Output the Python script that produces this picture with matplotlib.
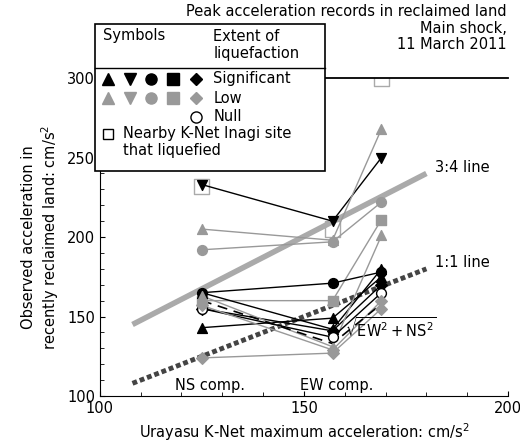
import matplotlib
matplotlib.use("Agg")
import matplotlib.pyplot as plt
from matplotlib.patches import Rectangle

xpos = [125, 157, 169]
# site series: (NS, EW, combined), marker, color, fill
sites = [
    ([233, 210, 250], 'v', 'k', True),
    ([205, 198, 268], '^', '#999999', True),
    ([192, 197, 222], 'o', '#999999', True),
    ([160, 160, 211], 's', '#999999', True),
    ([165, 171, 178], 'o', 'k', True),
    ([143, 149, 175], '^', 'k', True),
    ([165, 142, 180], '^', 'k', True),
    ([155, 141, 170], 'D', 'k', True),
    ([124, 127, 155], 'D', '#999999', True),
    ([163, 131, 201], '^', '#999999', True),
    ([155, 137, 165], 'o', 'k', False),
    ([157, 129, 160], 'D', '#999999', True),
]
dashed_vals = [160, 133, 158]
inagi = [232, 205, 300]
line34_x = [108, 180]
line34_y = [145, 240]
line11_x = [108, 180]
line11_y = [108, 180]

FS = 10.5
fig = plt.figure(figsize=(5.2, 4.46), dpi=100)
ax = fig.add_axes([0.192, 0.112, 0.785, 0.713])
ax.set_xlim(100, 200)
ax.set_ylim(100, 300)
ax.spines['right'].set_visible(False)
ax.spines['top'].set_linewidth(1.3)
ax.set_xticks([100, 150, 200])
ax.set_xticks(range(100, 201, 10), minor=True)
ax.set_yticks([100, 150, 200, 250, 300])
ax.set_yticks(range(100, 301, 10), minor=True)
ax.tick_params(direction='in', labelsize=FS)
ax.tick_params(which='minor', direction='in', length=3)

ax.plot(line34_x, line34_y, color='#aaaaaa', lw=4, solid_capstyle='butt')
ax.plot(line11_x, line11_y, color='#444444', lw=3.5, ls=(0, (1, 0.6)))

for vals, m, c, f in sites:
    ax.plot(xpos, vals, color=c, lw=1, zorder=3)
    ax.scatter(xpos, vals, marker=m, s=50 if m != 'D' else 35, zorder=4,
               facecolor=c if f else 'white', edgecolor=c if f else 'k')
ax.plot(xpos, dashed_vals, color='k', lw=1.2, ls=(0, (6, 4)), zorder=3)
ax.scatter(xpos, inagi, marker='s', s=120, facecolor='none', edgecolor='#aaaaaa', zorder=2)

ax.text(182, 241, '3:4 line', fontsize=FS)
ax.text(182, 181, '1:1 line', fontsize=FS)
ax.text(160, 137, r'$\sqrt{\mathrm{EW}^2 + \mathrm{NS}^2}$', fontsize=FS)
ax.text(127, 104, 'NS comp.', fontsize=FS, ha='center')
ax.text(158, 104, 'EW comp.', fontsize=FS, ha='center')
ax.set_xlabel('Urayasu K-Net maximum acceleration: cm/s$^2$', fontsize=FS)
ax.set_ylabel('Observed acceleration in\nrecently reclaimed land: cm/s$^2$', fontsize=FS)

fig.text(0.975, 0.99, 'Peak acceleration records in reclaimed land\nMain shock,\n11 March 2011',
         ha='right', va='top', fontsize=FS, linespacing=1.1)

# legend box
lb = Rectangle((0.183, 0.617), 0.442, 0.329, transform=fig.transFigure,
               facecolor='white', edgecolor='k', lw=1.2, zorder=10)
fig.add_artist(lb)
fig.add_artist(plt.Line2D([0.183, 0.625], [0.848, 0.848], transform=fig.transFigure, color='k', lw=1, zorder=11))
fig.text(0.198, 0.92, 'Symbols', fontsize=FS, va='center', zorder=12)
fig.text(0.41, 0.935, 'Extent of\nliquefaction', fontsize=FS, va='top', zorder=12, linespacing=1.2)
mk = ['^', 'v', 'o', 's', 'D']
mx = [0.208, 0.25, 0.29, 0.333, 0.376]
for xx, m in zip(mx, mk):
    for row, col in [(0.823, 'k'), (0.78, '#999999')]:
        fig.add_artist(plt.Line2D([xx], [row], marker=m, markersize=8 if m != 'D' else 6,
                                  color=col, transform=fig.transFigure, zorder=12))
fig.add_artist(plt.Line2D([0.376], [0.738], marker='o', markersize=8, mfc='white', mec='k',
                          transform=fig.transFigure, zorder=12))
fig.add_artist(plt.Line2D([0.208], [0.7], marker='s', markersize=7, mfc='white', mec='k',
                          transform=fig.transFigure, zorder=12))
fig.text(0.41, 0.823, 'Significant', fontsize=FS, va='center', zorder=12)
fig.text(0.41, 0.78, 'Low', fontsize=FS, va='center', zorder=12)
fig.text(0.41, 0.738, 'Null', fontsize=FS, va='center', zorder=12)
fig.text(0.237, 0.718, 'Nearby K-Net Inagi site\nthat liquefied', fontsize=FS, va='top',
         zorder=12, linespacing=1.15)

fig.savefig('out.png', dpi=100)
